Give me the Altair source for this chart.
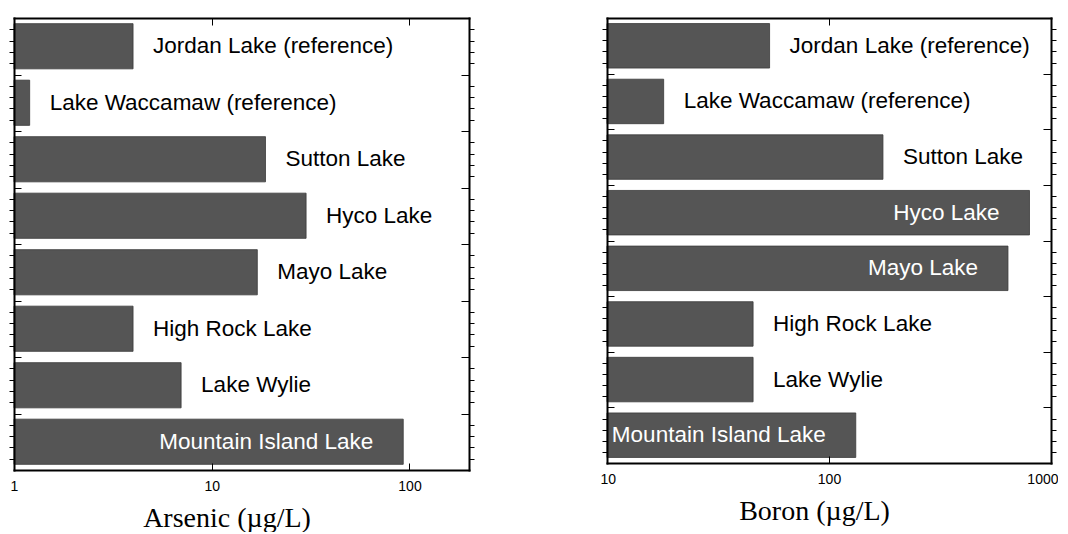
import altair as alt
import pandas as pd

lakes = ["Jordan Lake (reference)", "Lake Waccamaw (reference)", "Sutton Lake",
         "Hyco Lake", "Mayo Lake", "High Rock Lake", "Lake Wylie",
         "Mountain Island Lake"]
arsenic = [4.0, 1.2, 18.7, 30.0, 17.0, 4.0, 7.0, 93.0]
boron = [54.0, 18.0, 175.0, 800.0, 640.0, 45.5, 45.5, 132.0]
arsenic_label_inside = [False, False, False, False, False, False, False, True]
boron_label_inside = [False, False, False, True, True, False, False, True]
arsenic_ticks = [1, 10, 100]
boron_ticks = [10, 100, 1000]
arsenic_domain = [1, 200]
boron_domain = [10, 1000]

SANS = "Liberation Sans"
SERIF = "Liberation Serif"

SUB = 5  # minor subdivisions per category band
N = len(lakes)
minor_vals = [i for i in range(1, N * SUB) if i % SUB != 0]
major_vals = [i for i in range(SUB, N * SUB, SUB)]

FRAME = dict(domain=True, domainColor="black", domainWidth=2,
             domainCap="square")


def panel(values, inside, ticks, domain, title, width, height, flush):
    df = pd.DataFrame({"lake": lakes, "value": values, "inside": inside,
                       "row": list(range(N))})
    xscale = alt.Scale(type="log", domain=domain, nice=False)
    yscale = alt.Scale(domain=[0, N * SUB], nice=False, zero=False,
                       reverse=True)
    inner_ticks = [v for v in ticks if domain[0] < v < domain[1]]

    def yax(orient, vals, size, offset, frame=False):
        extra = FRAME if frame else dict(domain=False)
        return alt.Axis(orient=orient, values=vals, labels=False,
                        grid=False, tickSize=size, offset=offset,
                        tickColor="black", tickWidth=1, title=None,
                        zindex=1, **extra)

    def xticks_in(orient):
        return alt.X("value:Q", scale=xscale,
                     axis=alt.Axis(orient=orient, values=inner_ticks,
                                   labels=False, domain=False, grid=False,
                                   tickSize=7, offset=-7, tickColor="black",
                                   title=None, zindex=1))

    base = alt.Chart(df).transform_calculate(
        y0=f"datum.row * {SUB} + 0.5",
        y1=f"datum.row * {SUB} + {SUB} - 0.5",
        ym=f"datum.row * {SUB} + {SUB / 2}",
    )

    xmain = alt.X("value:Q", scale=xscale,
                  axis=alt.Axis(orient="bottom", values=ticks, format="d",
                                ticks=False, grid=False, zindex=1,
                                labelFlush=flush, labelFlushOffset=7,
                                labelOverlap=False,
                                labelPadding=9, labelFontSize=14,
                                labelFont=SANS, labelColor="black",
                                title=title, titleFont=SERIF,
                                titleFontSize=28, titleFontWeight="normal",
                                titleColor="black", titlePadding=11,
                                titleX=width / 2 - 15, **FRAME))
    xnone = alt.X("value:Q", scale=xscale, axis=None)
    ymid_none = alt.Y("ym:Q", scale=yscale, axis=None)

    bars = base.mark_rect(
        color="#555555", stroke="#3a3a3a", strokeWidth=0.8
    ).encode(
        x=xmain, x2=alt.value(0),
        y=alt.Y("y0:Q", scale=yscale,
                axis=yax("left", minor_vals, 5, 0, frame=True)),
        y2="y1:Q",
    )
    txt_out = base.transform_filter("!datum.inside").mark_text(
        align="left", baseline="middle", dx=20, font=SANS, fontSize=22.5,
        color="black").encode(x=xnone, y=ymid_none, text="lake:N")
    txt_in = base.transform_filter("datum.inside").mark_text(
        align="right", baseline="middle", dx=-30, font=SANS, fontSize=22.5,
        color="white").encode(x=xnone, y=ymid_none, text="lake:N")

    guide1 = base.mark_point(opacity=0).encode(
        x=xticks_in("top"),
        y=alt.Y("ym:Q", scale=yscale,
                axis=yax("right", minor_vals, 5, 0, frame=True)),
    )
    guide2 = base.mark_point(opacity=0).encode(
        x=xticks_in("bottom"),
        y=alt.Y("ym:Q", scale=yscale, axis=yax("left", major_vals, 7, -7)),
    )
    guide3 = base.mark_point(opacity=0).encode(
        x=alt.X("value:Q", scale=xscale,
                axis=alt.Axis(orient="top", values=inner_ticks, labels=False,
                              ticks=False, grid=False, title=None, zindex=1,
                              **FRAME)),
        y=alt.Y("ym:Q", scale=yscale, axis=yax("right", major_vals, 8, -8)),
    )
    return alt.layer(
        bars, txt_out, txt_in, guide1, guide2, guide3
    ).resolve_axis(
        x="independent", y="independent"
    ).properties(width=width, height=height)


left = panel(arsenic, arsenic_label_inside, arsenic_ticks, arsenic_domain,
             "Arsenic (µg/L)", 455, 452, False)
right = panel(boron, boron_label_inside, boron_ticks, boron_domain,
              "Boron (µg/L)", 444, 445, True)

chart = alt.hconcat(left, right, spacing=125).properties(
    padding={"left": 0, "top": 9, "right": 0, "bottom": 0}
).configure_view(stroke=None)

chart.save("out.html", embed_options={"renderer": "svg", "actions": False})
